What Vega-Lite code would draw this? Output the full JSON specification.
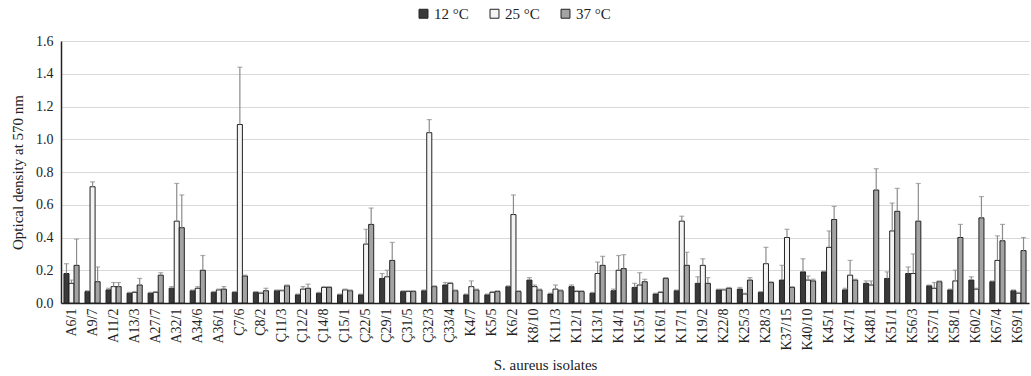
{
  "$schema": "https://vega.github.io/schema/vega-lite/v6.json",
  "autosize": "none",
  "width": 968,
  "height": 262,
  "padding": {"left": 61, "top": 41, "right": 2, "bottom": 73},
  "background": "white",
  "config": {
    "font": "Liberation Serif",
    "view": {"stroke": null},
    "axisY": {"labelOverlap": false, "labelFont": "Liberation Serif", "titleFont": "Liberation Serif"},
    "axis": {"labelFont": "Liberation Serif", "titleFont": "Liberation Serif", "labelColor": "#222", "titleColor": "#222", "titleFontWeight": "normal"},
    "legend": {"labelFont": "Liberation Serif", "labelColor": "#222"}
  },
  "data": {"values": [
    {"isolate":"A6/1","temp":"12 °C","value":0.18,"upper":0.24},
    {"isolate":"A6/1","temp":"25 °C","value":0.12,"upper":0.14},
    {"isolate":"A6/1","temp":"37 °C","value":0.23,"upper":0.39},
    {"isolate":"A9/7","temp":"12 °C","value":0.07,"upper":0.075},
    {"isolate":"A9/7","temp":"25 °C","value":0.71,"upper":0.74},
    {"isolate":"A9/7","temp":"37 °C","value":0.13,"upper":0.22},
    {"isolate":"A11/2","temp":"12 °C","value":0.08,"upper":0.09},
    {"isolate":"A11/2","temp":"25 °C","value":0.1,"upper":0.125},
    {"isolate":"A11/2","temp":"37 °C","value":0.1,"upper":0.125},
    {"isolate":"A13/3","temp":"12 °C","value":0.06,"upper":0.065},
    {"isolate":"A13/3","temp":"25 °C","value":0.065,"upper":0.07},
    {"isolate":"A13/3","temp":"37 °C","value":0.11,"upper":0.15},
    {"isolate":"A27/7","temp":"12 °C","value":0.06,"upper":0.065},
    {"isolate":"A27/7","temp":"25 °C","value":0.065,"upper":0.07},
    {"isolate":"A27/7","temp":"37 °C","value":0.17,"upper":0.185},
    {"isolate":"A32/1","temp":"12 °C","value":0.09,"upper":0.1},
    {"isolate":"A32/1","temp":"25 °C","value":0.5,"upper":0.73},
    {"isolate":"A32/1","temp":"37 °C","value":0.46,"upper":0.66},
    {"isolate":"A34/6","temp":"12 °C","value":0.075,"upper":0.08},
    {"isolate":"A34/6","temp":"25 °C","value":0.09,"upper":0.1},
    {"isolate":"A34/6","temp":"37 °C","value":0.2,"upper":0.29},
    {"isolate":"A36/1","temp":"12 °C","value":0.065,"upper":0.07},
    {"isolate":"A36/1","temp":"25 °C","value":0.08,"upper":0.085},
    {"isolate":"A36/1","temp":"37 °C","value":0.085,"upper":0.1},
    {"isolate":"Ç7/6","temp":"12 °C","value":0.065,"upper":0.07},
    {"isolate":"Ç7/6","temp":"25 °C","value":1.09,"upper":1.44},
    {"isolate":"Ç7/6","temp":"37 °C","value":0.165,"upper":0.17},
    {"isolate":"Ç8/2","temp":"12 °C","value":0.065,"upper":0.07},
    {"isolate":"Ç8/2","temp":"25 °C","value":0.06,"upper":0.065},
    {"isolate":"Ç8/2","temp":"37 °C","value":0.075,"upper":0.09},
    {"isolate":"Ç11/3","temp":"12 °C","value":0.075,"upper":0.08},
    {"isolate":"Ç11/3","temp":"25 °C","value":0.075,"upper":0.08},
    {"isolate":"Ç11/3","temp":"37 °C","value":0.105,"upper":0.11},
    {"isolate":"Ç12/2","temp":"12 °C","value":0.05,"upper":0.055},
    {"isolate":"Ç12/2","temp":"25 °C","value":0.085,"upper":0.1},
    {"isolate":"Ç12/2","temp":"37 °C","value":0.09,"upper":0.115},
    {"isolate":"Ç14/8","temp":"12 °C","value":0.06,"upper":0.065},
    {"isolate":"Ç14/8","temp":"25 °C","value":0.095,"upper":0.1},
    {"isolate":"Ç14/8","temp":"37 °C","value":0.095,"upper":0.1},
    {"isolate":"Ç15/1","temp":"12 °C","value":0.05,"upper":0.055},
    {"isolate":"Ç15/1","temp":"25 °C","value":0.08,"upper":0.085},
    {"isolate":"Ç15/1","temp":"37 °C","value":0.075,"upper":0.08},
    {"isolate":"Ç22/5","temp":"12 °C","value":0.05,"upper":0.055},
    {"isolate":"Ç22/5","temp":"25 °C","value":0.36,"upper":0.45},
    {"isolate":"Ç22/5","temp":"37 °C","value":0.48,"upper":0.58},
    {"isolate":"Ç29/1","temp":"12 °C","value":0.15,"upper":0.18},
    {"isolate":"Ç29/1","temp":"25 °C","value":0.16,"upper":0.2},
    {"isolate":"Ç29/1","temp":"37 °C","value":0.26,"upper":0.37},
    {"isolate":"Ç31/5","temp":"12 °C","value":0.07,"upper":0.075},
    {"isolate":"Ç31/5","temp":"25 °C","value":0.07,"upper":0.075},
    {"isolate":"Ç31/5","temp":"37 °C","value":0.07,"upper":0.075},
    {"isolate":"Ç32/3","temp":"12 °C","value":0.075,"upper":0.08},
    {"isolate":"Ç32/3","temp":"25 °C","value":1.04,"upper":1.12},
    {"isolate":"Ç32/3","temp":"37 °C","value":0.1,"upper":0.105},
    {"isolate":"Ç33/4","temp":"12 °C","value":0.11,"upper":0.125},
    {"isolate":"Ç33/4","temp":"25 °C","value":0.12,"upper":0.125},
    {"isolate":"Ç33/4","temp":"37 °C","value":0.075,"upper":0.08},
    {"isolate":"K4/7","temp":"12 °C","value":0.05,"upper":0.055},
    {"isolate":"K4/7","temp":"25 °C","value":0.1,"upper":0.135},
    {"isolate":"K4/7","temp":"37 °C","value":0.08,"upper":0.085},
    {"isolate":"K5/5","temp":"12 °C","value":0.05,"upper":0.055},
    {"isolate":"K5/5","temp":"25 °C","value":0.065,"upper":0.07},
    {"isolate":"K5/5","temp":"37 °C","value":0.07,"upper":0.075},
    {"isolate":"K6/2","temp":"12 °C","value":0.1,"upper":0.105},
    {"isolate":"K6/2","temp":"25 °C","value":0.54,"upper":0.66},
    {"isolate":"K6/2","temp":"37 °C","value":0.07,"upper":0.075},
    {"isolate":"K8/10","temp":"12 °C","value":0.14,"upper":0.155},
    {"isolate":"K8/10","temp":"25 °C","value":0.1,"upper":0.11},
    {"isolate":"K8/10","temp":"37 °C","value":0.08,"upper":0.085},
    {"isolate":"K11/3","temp":"12 °C","value":0.055,"upper":0.06},
    {"isolate":"K11/3","temp":"25 °C","value":0.085,"upper":0.11},
    {"isolate":"K11/3","temp":"37 °C","value":0.075,"upper":0.08},
    {"isolate":"K12/1","temp":"12 °C","value":0.1,"upper":0.11},
    {"isolate":"K12/1","temp":"25 °C","value":0.07,"upper":0.075},
    {"isolate":"K12/1","temp":"37 °C","value":0.07,"upper":0.075},
    {"isolate":"K13/1","temp":"12 °C","value":0.06,"upper":0.065},
    {"isolate":"K13/1","temp":"25 °C","value":0.18,"upper":0.25},
    {"isolate":"K13/1","temp":"37 °C","value":0.23,"upper":0.285},
    {"isolate":"K14/1","temp":"12 °C","value":0.075,"upper":0.085},
    {"isolate":"K14/1","temp":"25 °C","value":0.2,"upper":0.29},
    {"isolate":"K14/1","temp":"37 °C","value":0.21,"upper":0.295},
    {"isolate":"K15/1","temp":"12 °C","value":0.095,"upper":0.12},
    {"isolate":"K15/1","temp":"25 °C","value":0.11,"upper":0.185},
    {"isolate":"K15/1","temp":"37 °C","value":0.13,"upper":0.145},
    {"isolate":"K16/1","temp":"12 °C","value":0.055,"upper":0.06},
    {"isolate":"K16/1","temp":"25 °C","value":0.065,"upper":0.07},
    {"isolate":"K16/1","temp":"37 °C","value":0.15,"upper":0.155},
    {"isolate":"K17/1","temp":"12 °C","value":0.075,"upper":0.08},
    {"isolate":"K17/1","temp":"25 °C","value":0.5,"upper":0.53},
    {"isolate":"K17/1","temp":"37 °C","value":0.23,"upper":0.31},
    {"isolate":"K19/2","temp":"12 °C","value":0.12,"upper":0.16},
    {"isolate":"K19/2","temp":"25 °C","value":0.23,"upper":0.27},
    {"isolate":"K19/2","temp":"37 °C","value":0.12,"upper":0.155},
    {"isolate":"K22/8","temp":"12 °C","value":0.08,"upper":0.085},
    {"isolate":"K22/8","temp":"25 °C","value":0.08,"upper":0.085},
    {"isolate":"K22/8","temp":"37 °C","value":0.09,"upper":0.095},
    {"isolate":"K25/3","temp":"12 °C","value":0.085,"upper":0.095},
    {"isolate":"K25/3","temp":"25 °C","value":0.055,"upper":0.06},
    {"isolate":"K25/3","temp":"37 °C","value":0.14,"upper":0.155},
    {"isolate":"K28/3","temp":"12 °C","value":0.065,"upper":0.07},
    {"isolate":"K28/3","temp":"25 °C","value":0.24,"upper":0.34},
    {"isolate":"K28/3","temp":"37 °C","value":0.125,"upper":0.13},
    {"isolate":"K37/15","temp":"12 °C","value":0.14,"upper":0.23},
    {"isolate":"K37/15","temp":"25 °C","value":0.4,"upper":0.45},
    {"isolate":"K37/15","temp":"37 °C","value":0.095,"upper":0.1},
    {"isolate":"K40/10","temp":"12 °C","value":0.19,"upper":0.27},
    {"isolate":"K40/10","temp":"25 °C","value":0.14,"upper":0.165},
    {"isolate":"K40/10","temp":"37 °C","value":0.135,"upper":0.145},
    {"isolate":"K45/1","temp":"12 °C","value":0.19,"upper":0.195},
    {"isolate":"K45/1","temp":"25 °C","value":0.34,"upper":0.44},
    {"isolate":"K45/1","temp":"37 °C","value":0.51,"upper":0.59},
    {"isolate":"K47/1","temp":"12 °C","value":0.08,"upper":0.09},
    {"isolate":"K47/1","temp":"25 °C","value":0.17,"upper":0.26},
    {"isolate":"K47/1","temp":"37 °C","value":0.14,"upper":0.145},
    {"isolate":"K48/1","temp":"12 °C","value":0.12,"upper":0.135},
    {"isolate":"K48/1","temp":"25 °C","value":0.11,"upper":0.135},
    {"isolate":"K48/1","temp":"37 °C","value":0.69,"upper":0.82},
    {"isolate":"K51/1","temp":"12 °C","value":0.15,"upper":0.19},
    {"isolate":"K51/1","temp":"25 °C","value":0.44,"upper":0.61},
    {"isolate":"K51/1","temp":"37 °C","value":0.56,"upper":0.7},
    {"isolate":"K56/3","temp":"12 °C","value":0.18,"upper":0.22},
    {"isolate":"K56/3","temp":"25 °C","value":0.18,"upper":0.3},
    {"isolate":"K56/3","temp":"37 °C","value":0.5,"upper":0.73},
    {"isolate":"K57/1","temp":"12 °C","value":0.105,"upper":0.11},
    {"isolate":"K57/1","temp":"25 °C","value":0.09,"upper":0.125},
    {"isolate":"K57/1","temp":"37 °C","value":0.13,"upper":0.135},
    {"isolate":"K58/1","temp":"12 °C","value":0.08,"upper":0.085},
    {"isolate":"K58/1","temp":"25 °C","value":0.135,"upper":0.2},
    {"isolate":"K58/1","temp":"37 °C","value":0.4,"upper":0.48},
    {"isolate":"K60/2","temp":"12 °C","value":0.14,"upper":0.16},
    {"isolate":"K60/2","temp":"25 °C","value":0.085,"upper":0.09},
    {"isolate":"K60/2","temp":"37 °C","value":0.52,"upper":0.65},
    {"isolate":"K67/4","temp":"12 °C","value":0.13,"upper":0.135},
    {"isolate":"K67/4","temp":"25 °C","value":0.26,"upper":0.41},
    {"isolate":"K67/4","temp":"37 °C","value":0.38,"upper":0.48},
    {"isolate":"K69/1","temp":"12 °C","value":0.075,"upper":0.08},
    {"isolate":"K69/1","temp":"25 °C","value":0.06,"upper":0.065},
    {"isolate":"K69/1","temp":"37 °C","value":0.32,"upper":0.4}
  ]},
  "encoding": {
    "x": {
      "field": "isolate", "type": "nominal", "sort": null,
      "scale": {"paddingInner": 0.28, "paddingOuter": 0.14},
      "axis": {
        "title": "S. aureus isolates", "titleFontSize": 15, "titlePadding": 7,
        "titleFont": "Liberation Serif", "labelFont": "Liberation Serif",
        "labelAngle": -90, "labelAlign": "right", "labelBaseline": "middle",
        "labelFontSize": 14, "labelPadding": 5, "ticks": false,
        "domainColor": "#222", "domainWidth": 1.5, "labelOverlap": false
      }
    },
    "xOffset": {"field": "temp", "type": "nominal"}
  },
  "layer": [
    {
      "mark": {"type": "bar", "stroke": "#222", "strokeWidth": 1},
      "encoding": {
        "y": {
          "field": "value", "type": "quantitative",
          "scale": {"domain": [0, 1.6], "nice": false},
          "axis": {
            "title": "Optical density at 570 nm", "titleFontSize": 15, "titlePadding": 10,
            "titleFont": "Liberation Serif", "labelFont": "Liberation Serif",
            "values": [0, 0.2, 0.4, 0.6, 0.8, 1.0, 1.2, 1.4, 1.6], "format": ".1f",
            "labelFontSize": 14, "ticks": false, "labelPadding": 8, "labelOverlap": false,
            "grid": true, "gridColor": "#d9d9d9", "gridWidth": 1,
            "domainColor": "#222", "domainWidth": 1.5
          }
        },
        "fill": {
          "field": "temp", "type": "nominal",
          "scale": {"domain": ["12 °C", "25 °C", "37 °C"], "range": ["#3a3a3a", "#f4f4f4", "#a3a3a3"]},
          "legend": {
            "title": null, "orient": "none", "direction": "horizontal",
            "legendX": 355, "legendY": -35, "labelFontSize": 15, "labelFont": "Liberation Serif",
            "symbolType": "square", "symbolSize": 80, "symbolStrokeColor": "#222",
            "symbolStrokeWidth": 1, "columnPadding": 18, "labelOffset": 3
          }
        }
      }
    },
    {
      "mark": {"type": "rule", "color": "#8c8c8c", "strokeWidth": 1.2},
      "encoding": {
        "y": {
          "field": "value", "type": "quantitative",
          "axis": {
            "title": "Optical density at 570 nm", "titleFontSize": 15, "titlePadding": 10,
            "titleFont": "Liberation Serif", "labelFont": "Liberation Serif",
            "values": [0, 0.2, 0.4, 0.6, 0.8, 1.0, 1.2, 1.4, 1.6], "format": ".1f",
            "labelFontSize": 14, "ticks": false, "labelPadding": 8, "labelOverlap": false,
            "grid": true, "gridColor": "#d9d9d9", "gridWidth": 1,
            "domainColor": "#222", "domainWidth": 1.5
          }
        },
        "y2": {"field": "upper"}
      }
    },
    {
      "mark": {"type": "tick", "color": "#8c8c8c", "thickness": 1.2, "size": 5},
      "encoding": {
        "y": {
          "field": "upper", "type": "quantitative",
          "axis": {
            "title": "Optical density at 570 nm", "titleFontSize": 15, "titlePadding": 10,
            "titleFont": "Liberation Serif", "labelFont": "Liberation Serif",
            "values": [0, 0.2, 0.4, 0.6, 0.8, 1.0, 1.2, 1.4, 1.6], "format": ".1f",
            "labelFontSize": 14, "ticks": false, "labelPadding": 8, "labelOverlap": false,
            "grid": true, "gridColor": "#d9d9d9", "gridWidth": 1,
            "domainColor": "#222", "domainWidth": 1.5
          }
        }
      }
    }
  ]
}
